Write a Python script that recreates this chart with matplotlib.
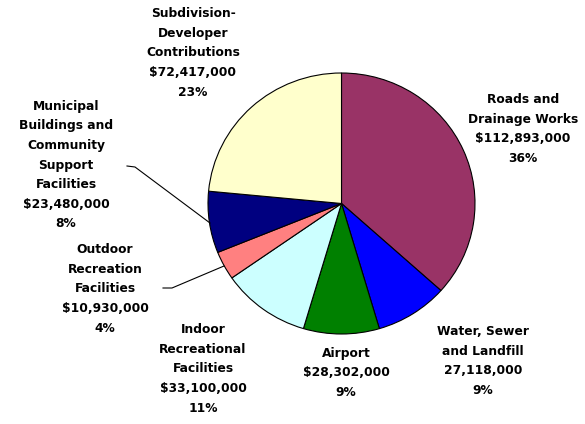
import matplotlib.pyplot as plt

# Capital program funding by category
categories = [
    'Roads and\nDrainage Works',
    'Water, Sewer\nand Landfill',
    'Airport',
    'Indoor\nRecreational\nFacilities',
    'Outdoor\nRecreation\nFacilities',
    'Municipal\nBuildings and\nCommunity\nSupport\nFacilities',
    'Subdivision-\nDeveloper\nContributions',
]
amounts = [112893000, 27118000, 28302000, 33100000, 10930000, 23480000, 72417000]
amount_labels = ['$112,893,000', '27,118,000', '$28,302,000', '$33,100,000',
                 '$10,930,000', '$23,480,000', '$72,417,000']
percent_labels = ['36%', '9%', '9%', '11%', '4%', '8%', '23%']

colors = ['#993366', '#0000FF', '#008000', '#CCFFFF', '#FF8080', '#000080', '#FFFFCC']

# label block centres in figure pixels (x, y from top)
label_pos = [(523, 129), (483, 361), (346, 373), (203, 369),
             (105, 289), (66, 165), (193, 53)]

W, H = 585, 424
fig = plt.figure(figsize=(W / 100, H / 100), dpi=100)

cx, cy, rx, ry = 341.5, 203.5, 133.5, 130.5
ax = fig.add_axes([(cx - rx) / W, (H - cy - ry) / H, 2 * rx / W, 2 * ry / H])
ax.pie(amounts, colors=colors, startangle=90, counterclock=False,
       wedgeprops=dict(edgecolor='black', linewidth=0.8))
ax.set_aspect('auto')
ax.set_xlim(-1, 1)
ax.set_ylim(-1, 1)
ax.axis('off')

for name, amt, pct, (x, y) in zip(categories, amount_labels, percent_labels, label_pos):
    fig.text(x / W, 1 - y / H, f'{name}\n{amt}\n{pct}', ha='center', va='center',
             fontsize=8.8, fontweight='bold', family='DejaVu Sans',
             linespacing=1.66, color='black')

# leader lines for the two small wedges on the left
def leader(points):
    xs = [p[0] / W for p in points]
    ys = [1 - p[1] / H for p in points]
    fig.add_artist(plt.Line2D(xs, ys, color='black', linewidth=0.8))

leader([(127, 166), (135, 167), (210, 223)])
leader([(163, 288), (172, 288), (224, 266)])

fig.savefig('out.png', dpi=100)
